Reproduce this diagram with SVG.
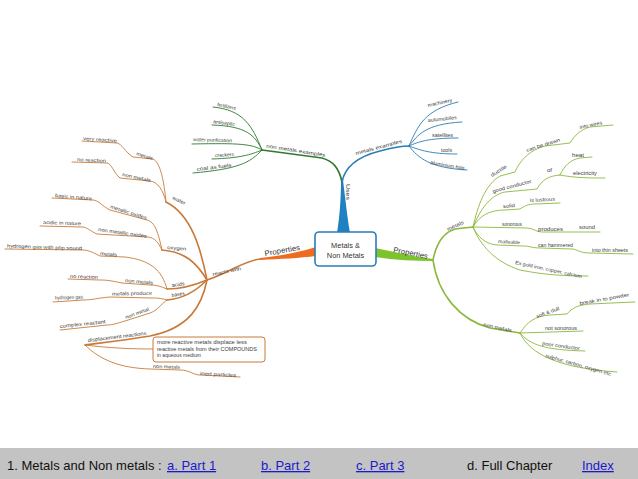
<svg xmlns="http://www.w3.org/2000/svg" width="638" height="479" viewBox="0 0 638 479">
<style>
.t{font-family:"Liberation Sans",Arial,sans-serif;font-size:5px;fill:#3c3c3c}
.big{font-size:7.5px;fill:#333}
.c{font-family:"Liberation Sans",Arial,sans-serif;font-size:7.4px;fill:#333;text-anchor:middle}
.og{fill:none;stroke:#c97a38;stroke-linecap:round}
.gr{fill:none;stroke:#2e7b2e;stroke-linecap:round}
.bl{fill:none;stroke:#2a7db5;stroke-linecap:round}
.lg{fill:none;stroke:#8cb83e;stroke-linecap:round}
.b1{stroke-width:1.6}
.l1{stroke-width:0.9}
.bar{font-family:"Liberation Sans",Arial,sans-serif;font-size:13px;fill:#111}
.lnk{fill:#1a1acc;text-decoration:underline}
</style>
<rect width="638" height="479" fill="#ffffff"/>
<g id="connectors">
<path d="M337,233 C340,215 341,196 341,180 L343,180 C345,196 347,215 350,233 Z" fill="#1f80c2"/>
<path d="M316,247 L316,256 C300,258 280,259 260,260 L260,258 C280,256 300,252 316,247 Z" fill="#ee6c1e"/>
<path d="M375,248 C395,252 415,257 433,259 L433,261 C415,261 395,260 375,257 Z" fill="#7dc42c"/>
<path class="gr b1" d="M342,182 C339,168 333,161 322,158 L262,150"/>
<path class="gr l1" d="M262,150 C252,125 243,110 213,107"/>
<path class="gr l1" d="M262,150 C255,135 246,126 212,125"/>
<path class="gr l1" d="M262,150 C252,144 240,143 192,144"/>
<path class="gr l1" d="M262,150 C250,155 240,158 212,159"/>
<path class="gr l1" d="M262,150 C250,163 238,169 193,173"/>
<path class="bl b1" d="M342,182 C345,166 360,156 380,151 C395,147 402,146 409,146"/>
<path class="bl l1" d="M409,146 C418,125 425,110 458,102"/>
<path class="bl l1" d="M409,146 C418,135 425,124 462,122"/>
<path class="bl l1" d="M409,146 C418,142 428,138 458,138"/>
<path class="bl l1" d="M409,146 C420,150 430,154 457,154"/>
<path class="bl l1" d="M409,146 C418,158 430,168 467,170"/>
<path class="og b1" d="M260,259 C240,262 232,272 207,280"/>
<path class="og b1" d="M207,280 C201,250 192,215 166,202"/>
<path class="og l1" d="M166,202 C164,180 160,162 153,159 L133,157 C125,152 122,144 117,143 L82,141"/>
<path class="og l1" d="M166,202 C163,190 158,182 150,181 L120,178 C113,172 112,164 107,163 L72,162"/>
<path class="og b1" d="M207,280 C196,262 185,252 162,250"/>
<path class="og l1" d="M162,250 C158,232 155,222 147,220 L110,210 C102,206 98,200 93,200 L52,198"/>
<path class="og l1" d="M162,250 C158,242 155,238 148,237 L97,234 C90,231 87,227 82,227 L40,226"/>
<path class="og b1" d="M207,280 C195,285 180,289 167,289"/>
<path class="og l1" d="M167,289 C162,270 150,260 125,257 L100,256 C92,252 88,250 83,250 L5,249"/>
<path class="og l1" d="M167,289 C160,286 156,285 150,285 L122,283 C112,281 108,280 100,280 L68,279"/>
<path class="og b1" d="M207,280 C195,292 180,299 167,300"/>
<path class="og l1" d="M167,300 C160,298 156,298 152,298 L110,297 C98,298 92,300 83,300 L53,302"/>
<path class="og l1" d="M167,300 C160,305 158,310 150,313 L125,321 C115,324 112,325 107,325 L60,330"/>
<path class="og b1" d="M207,280 C202,305 190,328 150,336 C120,341 100,343 85,345"/>
<path class="og l1" d="M85,345 C110,348 130,349 153,349"/>
<path class="og l1" d="M85,345 C100,360 120,368 150,369 L180,370 C190,370 193,375 200,375 L240,377"/>
<path class="lg b1" d="M433,260 C436,245 442,233 455,229 L473,227"/>
<path class="lg b1" d="M433,260 C438,295 460,320 490,328 L520,333"/>
<path class="lg l1" d="M473,227 C478,205 485,185 500,176 L515,172 C520,160 530,150 545,146 L570,143 C575,135 580,130 590,127 L613,125"/>
<path class="lg l1" d="M473,227 C480,210 490,195 505,192 L537,189 C542,180 548,176 560,175"/>
<path class="lg l1" d="M560,175 C565,165 570,160 580,158 L592,157"/>
<path class="lg l1" d="M560,175 C575,178 590,178 605,178"/>
<path class="lg l1" d="M473,227 C480,215 490,210 505,210 L520,209 C525,206 528,204 535,204 L560,203"/>
<path class="lg l1" d="M473,227 L527,228 C533,228 536,232 542,232 L600,232"/>
<path class="lg l1" d="M473,227 C478,237 485,244 497,245 L523,246 C530,246 532,248 540,248 L573,249 C578,250 580,253 590,253 L633,254"/>
<path class="lg l1" d="M473,227 C480,245 495,262 520,270 C545,275 565,276 588,276"/>
<path class="lg l1" d="M520,333 C527,322 535,316 550,315 L567,314 C572,308 578,305 590,304 L635,302"/>
<path class="lg l1" d="M520,333 L583,331"/>
<path class="lg l1" d="M520,333 C530,345 545,350 585,351"/>
<path class="lg l1" d="M520,333 C530,355 560,368 617,372"/>
</g>
<g id="center">
<rect x="315" y="232" width="61" height="34" rx="4" fill="#fff" stroke="#2a7db5" stroke-width="1.6"/>
<text class="c" x="345.5" y="248">Metals &amp;</text>
<text class="c" x="345.5" y="258">Non Metals</text>
</g>
<g id="uses"><text class="t" style="font-size:6px" transform="rotate(90 346 184)" x="346" y="184" textLength="16" lengthAdjust="spacingAndGlyphs">Uses</text></g>
<g id="nme"><text class="t" transform="rotate(9 266 147.5)" x="266" y="147.5" textLength="60" lengthAdjust="spacingAndGlyphs">non metals examples</text></g>
<g id="nme1"><text class="t" transform="rotate(12 217 106)" x="217" y="106" textLength="19" lengthAdjust="spacingAndGlyphs">fertilizers</text></g>
<g id="nme2"><text class="t" transform="rotate(8 213 123)" x="213" y="123" textLength="22" lengthAdjust="spacingAndGlyphs">antiseptic</text></g>
<g id="nme3"><text class="t" transform="rotate(2 193 141)" x="193" y="141" textLength="39" lengthAdjust="spacingAndGlyphs">water purification</text></g>
<g id="nme4"><text class="t" transform="rotate(-3 215 157)" x="215" y="157" textLength="19" lengthAdjust="spacingAndGlyphs">crackers</text></g>
<g id="nme5"><text class="t" transform="rotate(-7 197 171)" x="197" y="171" textLength="35" lengthAdjust="spacingAndGlyphs">coal as fuels</text></g>
<g id="me"><text class="t" transform="rotate(-15 356 155)" x="356" y="155" textLength="48" lengthAdjust="spacingAndGlyphs">metals examples</text></g>
<g id="me1"><text class="t" transform="rotate(-12 428 107)" x="428" y="107" textLength="25" lengthAdjust="spacingAndGlyphs">machinery</text></g>
<g id="me2"><text class="t" transform="rotate(-6 428 122)" x="428" y="122" textLength="29" lengthAdjust="spacingAndGlyphs">automobiles</text></g>
<g id="me3"><text class="t" x="432" y="136.5" textLength="21" lengthAdjust="spacingAndGlyphs">satellites</text></g>
<g id="me4"><text class="t" x="441" y="151.5" textLength="11" lengthAdjust="spacingAndGlyphs">tools</text></g>
<g id="me5"><text class="t" transform="rotate(10 430 164)" x="430" y="164" textLength="35" lengthAdjust="spacingAndGlyphs">aluminium foils</text></g>
<g id="propL"><text class="t big" transform="rotate(-10 265 256)" x="265" y="256" textLength="36" lengthAdjust="spacingAndGlyphs">Properties</text></g>
<g id="reacts"><text class="t" transform="rotate(-12 213 276)" x="213" y="276" textLength="29" lengthAdjust="spacingAndGlyphs">reacts with</text></g>
<g id="water"><text class="t" transform="rotate(25 172 199)" x="172" y="199" textLength="14" lengthAdjust="spacingAndGlyphs">water</text></g>
<g id="w1"><text class="t" transform="rotate(18 136 155)" x="136" y="155" textLength="17" lengthAdjust="spacingAndGlyphs">metals</text></g>
<g id="w1a"><text class="t" transform="rotate(4 83 140)" x="83" y="140" textLength="34" lengthAdjust="spacingAndGlyphs">very reactive</text></g>
<g id="w2"><text class="t" transform="rotate(12 122 176)" x="122" y="176" textLength="29" lengthAdjust="spacingAndGlyphs">non metals</text></g>
<g id="w2a"><text class="t" transform="rotate(3 77 161)" x="77" y="161" textLength="29" lengthAdjust="spacingAndGlyphs">no reaction</text></g>
<g id="oxygen"><text class="t" transform="rotate(5 167 249)" x="167" y="249" textLength="19" lengthAdjust="spacingAndGlyphs">oxygen</text></g>
<g id="o1"><text class="t" transform="rotate(18 110 208)" x="110" y="208" textLength="38" lengthAdjust="spacingAndGlyphs">metallic oxides</text></g>
<g id="o1a"><text class="t" transform="rotate(5 55 197)" x="55" y="197" textLength="37" lengthAdjust="spacingAndGlyphs">basic in nature</text></g>
<g id="o2"><text class="t" transform="rotate(8 98 231)" x="98" y="231" textLength="49" lengthAdjust="spacingAndGlyphs">non metallic oxides</text></g>
<g id="o2a"><text class="t" transform="rotate(2 43 224)" x="43" y="224" textLength="38" lengthAdjust="spacingAndGlyphs">acidic in nature</text></g>
<g id="acids"><text class="t" transform="rotate(-8 172 287)" x="172" y="287" textLength="13" lengthAdjust="spacingAndGlyphs">acids</text></g>
<g id="a1"><text class="t" transform="rotate(5 100 255)" x="100" y="255" textLength="17" lengthAdjust="spacingAndGlyphs">metals</text></g>
<g id="a1a"><text class="t" transform="rotate(2 7 247.5)" x="7" y="247.5" textLength="75" lengthAdjust="spacingAndGlyphs">hydrogen gas with pop sound</text></g>
<g id="a2"><text class="t" transform="rotate(5 125 282)" x="125" y="282" textLength="28" lengthAdjust="spacingAndGlyphs">non metals</text></g>
<g id="a2a"><text class="t" transform="rotate(2 70 278)" x="70" y="278" textLength="28" lengthAdjust="spacingAndGlyphs">no reaction</text></g>
<g id="bases"><text class="t" transform="rotate(-10 172 297)" x="172" y="297" textLength="13" lengthAdjust="spacingAndGlyphs">bases</text></g>
<g id="b1"><text class="t" transform="rotate(-1 112 295.5)" x="112" y="295.5" textLength="40" lengthAdjust="spacingAndGlyphs">metals produce</text></g>
<g id="b1a"><text class="t" transform="rotate(-2 55 299.5)" x="55" y="299.5" textLength="28" lengthAdjust="spacingAndGlyphs">hydrogen gas</text></g>
<g id="b2"><text class="t" transform="rotate(-20 126 319)" x="126" y="319" textLength="25" lengthAdjust="spacingAndGlyphs">non metal</text></g>
<g id="b2a"><text class="t" transform="rotate(-6 60 328)" x="60" y="328" textLength="46" lengthAdjust="spacingAndGlyphs">complex reactant</text></g>
<g id="disp"><text class="t" transform="rotate(-7 88 342)" x="88" y="342" textLength="59" lengthAdjust="spacingAndGlyphs">displacement reactions</text></g>
<g id="callout">
<rect x="153" y="337" width="112" height="25" rx="3" fill="#fff" stroke="#c97a38" stroke-width="1"/>
<text class="t" x="157" y="344" textLength="90" lengthAdjust="spacingAndGlyphs">more reactive metals displace less</text>
<text class="t" x="157" y="350.5" textLength="100" lengthAdjust="spacingAndGlyphs">reactive metals from their COMPOUNDS</text>
<text class="t" x="157" y="357" textLength="44" lengthAdjust="spacingAndGlyphs">in aqueous medium</text>
</g>
<g id="d2"><text class="t" transform="rotate(2 153 368)" x="153" y="368" textLength="27" lengthAdjust="spacingAndGlyphs">non metals</text></g>
<g id="d2a"><text class="t" transform="rotate(3 200 375)" x="200" y="375" textLength="36" lengthAdjust="spacingAndGlyphs">inert particles</text></g>
<g id="propR"><text class="t big" transform="rotate(11 393 252)" x="393" y="252" textLength="35" lengthAdjust="spacingAndGlyphs">Properties</text></g>
<g id="metals"><text class="t" transform="rotate(-25 448 231)" x="448" y="231" textLength="18" lengthAdjust="spacingAndGlyphs">metals</text></g>
<g id="m1"><text class="t" transform="rotate(-32 492 177)" x="492" y="177" textLength="18" lengthAdjust="spacingAndGlyphs">ductile</text></g>
<g id="m1a"><text class="t" transform="rotate(-18 527 152)" x="527" y="152" textLength="35" lengthAdjust="spacingAndGlyphs">can be drawn</text></g>
<g id="m1b"><text class="t" transform="rotate(-12 580 129)" x="580" y="129" textLength="23" lengthAdjust="spacingAndGlyphs">into wires</text></g>
<g id="m2"><text class="t" transform="rotate(-15 493 193)" x="493" y="193" textLength="40" lengthAdjust="spacingAndGlyphs">good conductor</text></g>
<g id="m2a"><text class="t" x="547" y="172" textLength="5" lengthAdjust="spacingAndGlyphs">of</text></g>
<g id="m2b"><text class="t" x="572" y="157" textLength="12" lengthAdjust="spacingAndGlyphs">heat</text></g>
<g id="m2c"><text class="t" x="573" y="175" textLength="24" lengthAdjust="spacingAndGlyphs">electricity</text></g>
<g id="m3"><text class="t" transform="rotate(-5 503 208)" x="503" y="208" textLength="12" lengthAdjust="spacingAndGlyphs">solid</text></g>
<g id="m3a"><text class="t" transform="rotate(-3 530 202)" x="530" y="202" textLength="25" lengthAdjust="spacingAndGlyphs">is lustrous</text></g>
<g id="m4"><text class="t" x="502" y="226" textLength="20" lengthAdjust="spacingAndGlyphs">sonorous</text></g>
<g id="m4a"><text class="t" x="538" y="230.5" textLength="25" lengthAdjust="spacingAndGlyphs">produces</text></g>
<g id="m4b"><text class="t" x="579" y="229" textLength="16" lengthAdjust="spacingAndGlyphs">sound</text></g>
<g id="m5"><text class="t" transform="rotate(3 498 243)" x="498" y="243" textLength="22" lengthAdjust="spacingAndGlyphs">malleable</text></g>
<g id="m5a"><text class="t" x="538" y="247" textLength="35" lengthAdjust="spacingAndGlyphs">can hammered</text></g>
<g id="m5b"><text class="t" x="592" y="252" textLength="36" lengthAdjust="spacingAndGlyphs">into thin sheets</text></g>
<g id="m6"><text class="t" transform="rotate(12 515 264)" x="515" y="264" textLength="68" lengthAdjust="spacingAndGlyphs">Ex gold iron, copper, calcium</text></g>
<g id="nonmetals"><text class="t" transform="rotate(12 483 326)" x="483" y="326" textLength="29" lengthAdjust="spacingAndGlyphs">non metals</text></g>
<g id="n1"><text class="t" transform="rotate(-20 537 318)" x="537" y="318" textLength="24" lengthAdjust="spacingAndGlyphs">soft &amp; dull</text></g>
<g id="n1a"><text class="t" transform="rotate(-10 580 305)" x="580" y="305" textLength="50" lengthAdjust="spacingAndGlyphs">break in to powder</text></g>
<g id="n2"><text class="t" x="545" y="330" textLength="32" lengthAdjust="spacingAndGlyphs">not sonorous</text></g>
<g id="n3"><text class="t" transform="rotate(8 542 345)" x="542" y="345" textLength="38" lengthAdjust="spacingAndGlyphs">poor conductor</text></g>
<g id="n4"><text class="t" transform="rotate(16 545 357)" x="545" y="357" textLength="68" lengthAdjust="spacingAndGlyphs">sulphur, carbon, oxygen etc</text></g>
<g id="footer">
<rect x="0" y="448" width="638" height="31" fill="#c3c3c3"/>
<text class="bar" x="7" y="470">1. Metals and Non metals :</text>
<text class="bar lnk" x="167" y="470">a. Part 1</text>
<text class="bar lnk" x="261" y="470">b. Part 2</text>
<text class="bar lnk" x="356" y="470">c. Part 3</text>
<text class="bar" x="467" y="470">d. Full Chapter</text>
<text class="bar lnk" x="582" y="470">Index</text>
</g>
</svg>
